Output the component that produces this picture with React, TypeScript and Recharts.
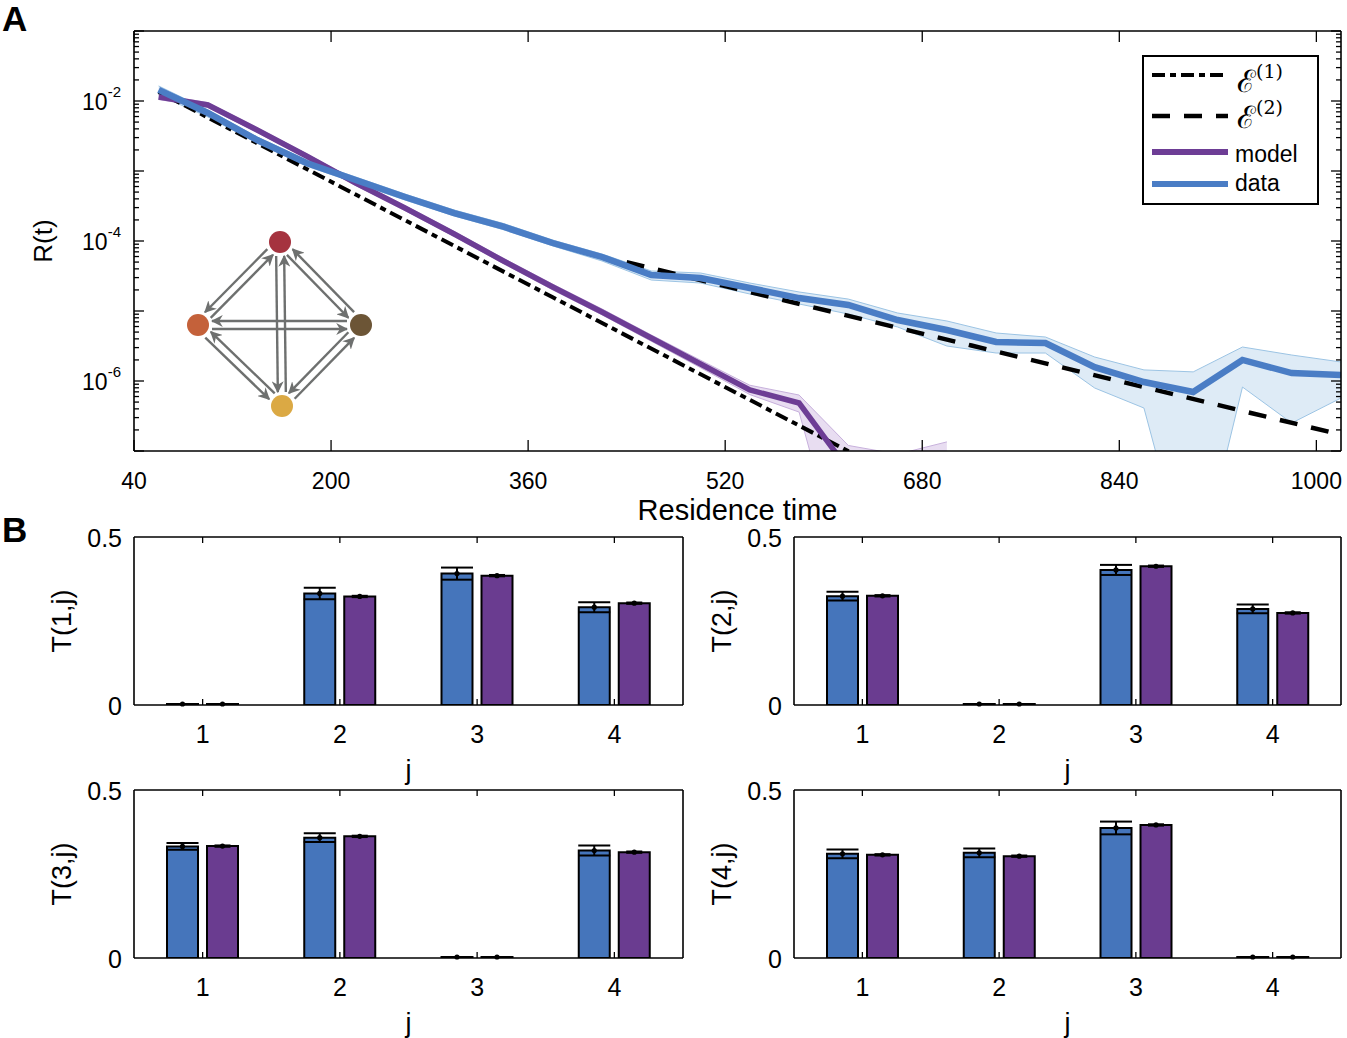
import React from "react";
import {
  ComposedChart,
  Line,
  Area,
  XAxis,
  YAxis,
  Legend,
  BarChart,
  Bar,
  ErrorBar,
  LabelList,
} from "recharts";

const FONT = "'Liberation Sans', Arial, Helvetica, sans-serif";
const BLUE = "#4a7dc5";
const PURPLE = "#6d3d95";

// ---- panel A: residence time survival R(t) ----
const residenceTimes = [
  60, 100, 140, 180, 220, 260, 300, 340, 380, 420, 460, 500, 540, 580, 620,
  660, 700, 740, 780, 820, 860, 900, 940, 980, 1020,
];
const dataMean = [
  1.44e-2, 6.74e-3, 2.77e-3, 1.3e-3, 7.44e-4, 4.25e-4, 2.51e-4, 1.6e-4,
  9.36e-5, 5.91e-5, 3.27e-5, 2.96e-5, 2.13e-5, 1.53e-5, 1.22e-5, 7.44e-6,
  5.35e-6, 3.61e-6, 3.49e-6, 1.58e-6, 9.68e-7, 6.97e-7, 2.0e-6, 1.3e-6,
  1.22e-6,
];
const dataLow = [
  1.22e-2, 5.91e-3, 2.51e-3, 1.18e-3, 6.74e-4, 3.85e-4, 2.28e-4, 1.45e-4,
  8.5e-5, 5.18e-5, 2.77e-5, 2.51e-5, 1.75e-5, 1.26e-5, 9.06e-6, 5.91e-6,
  3.16e-6, 2.51e-6, 2.51e-6, 7.94e-7, 4.11e-7, 1e-9, 8.2e-7, 2.51e-7, 5.71e-7,
];
const dataHigh = [
  1.64e-2, 7.44e-3, 3.06e-3, 1.44e-3, 8.2e-4, 4.69e-4, 2.77e-4, 1.78e-4,
  1.03e-4, 6.52e-5, 3.73e-5, 3.49e-5, 2.51e-5, 1.87e-5, 1.48e-5, 9.36e-6,
  7.2e-6, 4.85e-6, 4.25e-6, 2.2e-6, 1.44e-6, 1.35e-6, 3.06e-6, 2.35e-6,
  1.87e-6,
];
const modelMean = [
  1.14e-2, 8.77e-3, 3.85e-3, 1.64e-3, 6.74e-4, 2.96e-4, 1.26e-4, 5.18e-5,
  2.2e-5, 9.68e-6, 4.11e-6, 1.75e-6, 7.44e-7, 4.85e-7, 5.4e-8, 3e-8, 8e-8,
  null, null, null, null, null, null, null, null,
];
const modelLow = [
  1.05e-2, 8.1e-3, 3.55e-3, 1.52e-3, 6.2e-4, 2.72e-4, 1.16e-4, 4.75e-5, 2.0e-5,
  8.8e-6, 3.7e-6, 1.55e-6, 6.4e-7, 3.6e-7, 1e-9, 1e-9, 1e-9,
  null, null, null, null, null, null, null, null,
];
const modelHigh = [
  1.24e-2, 9.5e-3, 4.15e-3, 1.77e-3, 7.3e-4, 3.2e-4, 1.37e-4, 5.65e-5,
  2.42e-5, 1.07e-5, 4.55e-6, 1.98e-6, 8.7e-7, 6.3e-7, 1.2e-7, 9e-8, 1.35e-7,
  null, null, null, null, null, null, null, null,
];
const e1Times = [60, 220, 380, 540, 700];
const e1Values = [1.35e-2, 4.61e-4, 1.57e-5, 5.37e-7, 1.84e-8];
const e2Times = [440, 720, 1020];
const e2Values = [4.97e-5, 3.21e-6, 1.71e-7];

const xTicks = [40, 200, 360, 520, 680, 840, 1000];
const yLabelTicks = [1e-2, 1e-4, 1e-6];

// ---- panel B: transition probabilities T(i,j) ----
const jLabels = ["1", "2", "3", "4"];
const tData = [
  [0, 0.332, 0.391, 0.291],
  [0.324, 0, 0.402, 0.286],
  [0.332, 0.358, 0, 0.32],
  [0.31, 0.313, 0.387, 0],
];
const tDataErr = [
  [0, 0.017, 0.018, 0.015],
  [0.013, 0, 0.015, 0.013],
  [0.01, 0.013, 0, 0.015],
  [0.013, 0.013, 0.019, 0],
];
const tModel = [
  [0, 0.323, 0.385, 0.303],
  [0.325, 0, 0.413, 0.274],
  [0.333, 0.362, 0, 0.315],
  [0.307, 0.303, 0.396, 0],
];
const tModelErr = [
  [0, 0.002, 0.002, 0.002],
  [0.002, 0, 0.002, 0.002],
  [0.002, 0.002, 0, 0.002],
  [0.002, 0.002, 0.002, 0],
];

const survivalRows = residenceTimes.map((t, i) => ({
  t,
  dataMean: dataMean[i],
  dataBand: [dataLow[i], dataHigh[i]],
  modelMean: modelMean[i],
  modelBand: modelLow[i] == null ? null : [modelLow[i], modelHigh[i]],
}));
const e1Rows = e1Times.map((t, i) => ({ t, v: e1Values[i] }));
const e2Rows = e2Times.map((t, i) => ({ t, v: e2Values[i] }));

const yTickValues: number[] = [];
for (let e = -7; e <= -2; e++) {
  for (let k = 1; k <= 9; k++) yTickValues.push(k * Math.pow(10, e));
}
yTickValues.push(1e-1);

const isDecade = (v: number) => {
  const e = Math.log10(v);
  return Math.abs(e - Math.round(e)) < 1e-6;
};

const LogTick = (p: any, side: "left" | "right") => {
  const v = p.payload.value;
  const len = isDecade(v) ? 10 : 5;
  const dir = side === "left" ? 1 : -1;
  const labelled =
    side === "left" && yLabelTicks.some((t) => Math.abs(t - v) / t < 1e-6);
  return (
    <g>
      <line x1={p.x} x2={p.x + dir * len} y1={p.y} y2={p.y} stroke="#000" strokeWidth={1.3} />
      {labelled && (
        <text x={p.x - 13} y={p.y + 9} textAnchor="end" fontSize={23} fontFamily={FONT} fill="#000">
          10
          <tspan dy={-13} fontSize={15}>{`-${Math.round(-Math.log10(v))}`}</tspan>
        </text>
      )}
    </g>
  );
};

const XTick = (p: any, side: "bottom" | "top", len: number, fs: number, showText: boolean) => {
  const dir = side === "bottom" ? -1 : 1;
  return (
    <g>
      <line x1={p.x} x2={p.x} y1={p.y} y2={p.y + dir * len} stroke="#000" strokeWidth={1.3} />
      {showText && (
        <text x={p.x} y={p.y + 38} textAnchor="middle" fontSize={fs} fontFamily={FONT} fill="#000">
          {p.payload.value}
        </text>
      )}
    </g>
  );
};

const RotatedTitle = (p: any, caption: string, baseX: number, fs: number) => {
  const vb = p.viewBox;
  const cx = vb.x + baseX;
  const cy = vb.y + vb.height / 2;
  return (
    <text x={cx} y={cy} transform={`rotate(-90 ${cx} ${cy})`} textAnchor="middle" fontSize={fs} fontFamily={FONT} fill="#000">
      {caption}
    </text>
  );
};

const legendItems = [
  { key: "e1", sup: "(1)", color: "#000", width: 4, dash: "13 5 6 5" },
  { key: "e2", sup: "(2)", color: "#000", width: 4.5, dash: "18 14" },
  { key: "model", label: "model", color: PURPLE, width: 6, dash: undefined },
  { key: "data", label: "data", color: BLUE, width: 6, dash: undefined },
];
const legendRowY = [20, 61, 97, 129];
const legendTextY = [37, 73, 107, 136];

const LegendBox = () => (
  <svg width={177} height={151} style={{ display: "block" }}>
    <rect x={1} y={1} width={175} height={148} fill="#fff" stroke="#000" strokeWidth={2} />
    {legendItems.map((it, i) => (
      <g key={it.key}>
        <line x1={10} x2={86} y1={legendRowY[i]} y2={legendRowY[i]} stroke={it.color} strokeWidth={it.width} strokeDasharray={it.dash} />
        {it.sup ? (
          <text x={95} y={legendTextY[i]} fontSize={31} fontFamily="'DejaVu Serif', 'Liberation Serif', serif" fill="#000">
            ℰ
            <tspan dy={-14} fontSize={19}>{it.sup}</tspan>
          </text>
        ) : (
          <text x={93} y={legendTextY[i]} fontSize={23} fontFamily={FONT} fill="#000">
            {it.label}
          </text>
        )}
      </g>
    ))}
  </svg>
);

const SurvivalChart = () => (
  <ComposedChart width={1347} height={525} margin={{ top: 30, right: 0, bottom: 0, left: 0 }}>
    <XAxis
      dataKey="t"
      type="number"
      domain={[40, 1020]}
      ticks={xTicks}
      allowDataOverflow
      height={74}
      tickSize={0}
      tickMargin={0}
      tickLine={false}
      axisLine={{ stroke: "#000", strokeWidth: 1.6 }}
      tick={(p: any) => XTick(p, "bottom", 11, 23, true)}
      label={{ value: "Residence time", position: "insideBottom", offset: 5, fontSize: 29, fill: "#000", fontFamily: FONT }}
    />
    <XAxis
      xAxisId="top"
      orientation="top"
      dataKey="t"
      type="number"
      domain={[40, 1020]}
      ticks={xTicks}
      allowDataOverflow
      height={1}
      tickSize={0}
      tickMargin={0}
      tickLine={false}
      axisLine={{ stroke: "#000", strokeWidth: 1.6 }}
      tick={(p: any) => XTick(p, "top", 11, 23, false)}
    />
    <YAxis
      scale="log"
      domain={[1e-7, 1e-1]}
      ticks={yTickValues}
      allowDataOverflow
      width={134}
      tickSize={0}
      tickMargin={0}
      tickLine={false}
      interval={0}
      axisLine={{ stroke: "#000", strokeWidth: 1.6 }}
      tick={(p: any) => LogTick(p, "left")}
      label={(p: any) => RotatedTitle(p, "R(t)", 52, 26)}
    />
    <YAxis
      yAxisId="right"
      orientation="right"
      scale="log"
      domain={[1e-7, 1e-1]}
      ticks={yTickValues}
      allowDataOverflow
      width={6}
      tickSize={0}
      tickMargin={0}
      tickLine={false}
      interval={0}
      axisLine={{ stroke: "#000", strokeWidth: 1.6 }}
      tick={(p: any) => LogTick(p, "right")}
    />
    <Legend
      layout="vertical"
      align="center"
      verticalAlign="middle"
      wrapperStyle={{ left: 1142, top: 55, width: 177, height: 151 }}
      content={() => <LegendBox />}
    />
    <Line
      data={e1Rows}
      dataKey="v"
      xAxisId="top"
      yAxisId="right"
      stroke="#000"
      strokeWidth={4}
      strokeDasharray="13 5 6 5"
      dot={false}
      activeDot={false}
      isAnimationActive={false}
    />
    <Line
      data={e2Rows}
      dataKey="v"
      xAxisId="top"
      yAxisId="right"
      stroke="#000"
      strokeWidth={4.5}
      strokeDasharray="18 14"
      dot={false}
      activeDot={false}
      isAnimationActive={false}
    />
    <Area
      data={survivalRows}
      dataKey="modelBand"
      stroke="#c7b0dc"
      strokeWidth={1}
      fill="#d9c7e8"
      fillOpacity={0.6}
      isAnimationActive={false}
    />
    <Area
      data={survivalRows}
      dataKey="dataBand"
      stroke="#9cc4e4"
      strokeWidth={1}
      fill="#c8def0"
      fillOpacity={0.6}
      isAnimationActive={false}
    />
    <Line
      data={survivalRows}
      dataKey="modelMean"
      stroke={PURPLE}
      strokeWidth={5.5}
      dot={false}
      activeDot={false}
      isAnimationActive={false}
    />
    <Line
      data={survivalRows}
      dataKey="dataMean"
      stroke={BLUE}
      strokeWidth={6.5}
      dot={false}
      activeDot={false}
      isAnimationActive={false}
    />
  </ComposedChart>
);

const ValueDot = (p: any) => {
  const vb = p.viewBox ?? p;
  return <circle cx={vb.x + vb.width / 2} cy={vb.y} r={2.6} fill="#000" />;
};

const BarPanel = ({ row, left, top, width }: { row: number; left: number; top: number; width: number }) => {
  const rows = jLabels.map((j, k) => ({
    j,
    data: tData[row][k],
    dataErr: tDataErr[row][k],
    model: tModel[row][k],
    modelErr: tModelErr[row][k],
  }));
  return (
    <div style={{ position: "absolute", left, top }}>
      <BarChart
        width={width}
        height={265}
        data={rows}
        margin={{ top: 16, right: 0, bottom: 0, left: 0 }}
        barSize={31}
        barGap={9}
      >
        <XAxis
          dataKey="j"
          height={80}
          interval={0}
          tickSize={0}
          tickMargin={0}
          tickLine={false}
          axisLine={{ stroke: "#000", strokeWidth: 1.6 }}
          tick={(p: any) => XTick(p, "bottom", 6, 25, true)}
          label={{ value: "j", position: "insideBottom", offset: 6, fontSize: 27, fill: "#000", fontFamily: FONT }}
        />
        <XAxis
          xAxisId="top"
          orientation="top"
          dataKey="j"
          height={1}
          interval={0}
          tickSize={0}
          tickMargin={0}
          tickLine={false}
          axisLine={{ stroke: "#000", strokeWidth: 1.6 }}
          tick={(p: any) => XTick(p, "top", 6, 25, false)}
        />
        <YAxis
          domain={[0, 0.5]}
          ticks={[0, 0.5]}
          allowDataOverflow
          width={134}
          tickSize={0}
          tickMargin={0}
          tickLine={false}
          axisLine={{ stroke: "#000", strokeWidth: 1.6 }}
          tick={(p: any) => (
            <text x={p.x - 12} y={p.y + 10} textAnchor="end" fontSize={25} fontFamily={FONT} fill="#000">
              {p.payload.value}
            </text>
          )}
          label={(p: any) => RotatedTitle(p, `T(${row + 1},j)`, 71, 27)}
        />
        <YAxis
          yAxisId="right"
          orientation="right"
          domain={[0, 0.5]}
          allowDataOverflow
          width={7}
          tick={false}
          tickLine={false}
          axisLine={{ stroke: "#000", strokeWidth: 1.6 }}
        />
        <Bar dataKey="data" fill="#4575bb" stroke="#000" strokeWidth={2} minPointSize={1} isAnimationActive={false}>
          <ErrorBar dataKey="dataErr" width={16} stroke="#000" strokeWidth={2} />
          <LabelList content={ValueDot} />
        </Bar>
        <Bar dataKey="model" fill="#6a3c90" stroke="#000" strokeWidth={2} minPointSize={1} isAnimationActive={false}>
          <ErrorBar dataKey="modelErr" width={8} stroke="#000" strokeWidth={2} />
          <LabelList content={ValueDot} />
        </Bar>
      </BarChart>
    </div>
  );
};

// inset: four-state network
const nodes = [
  { x: 280, y: 242, c: "#a5333f" },
  { x: 198, y: 325, c: "#c4613a" },
  { x: 361, y: 325, c: "#6c5536" },
  { x: 282, y: 406, c: "#dba944" },
];
const NODE_R = 11;

const Network = () => {
  const arrows: React.ReactNode[] = [];
  nodes.forEach((a, i) =>
    nodes.forEach((b, k) => {
      if (i === k) return;
      const dx = b.x - a.x;
      const dy = b.y - a.y;
      const d = Math.hypot(dx, dy);
      const ux = dx / d;
      const uy = dy / d;
      const nx = -uy * 4;
      const ny = ux * 4;
      arrows.push(
        <line
          key={`${i}-${k}`}
          x1={a.x + ux * (NODE_R + 3) + nx}
          y1={a.y + uy * (NODE_R + 3) + ny}
          x2={b.x - ux * (NODE_R + 3) + nx}
          y2={b.y - uy * (NODE_R + 3) + ny}
          stroke="#6e706f"
          strokeWidth={2.4}
          markerEnd="url(#arrowHead)"
        />
      );
    })
  );
  return (
    <g>
      <defs>
        <marker id="arrowHead" viewBox="0 0 10 10" refX={9} refY={5} markerWidth={5} markerHeight={5} orient="auto">
          <path d="M0,0 L10,5 L0,10 L3,5 z" fill="#6e706f" />
        </marker>
      </defs>
      {arrows}
      {nodes.map((n, i) => (
        <circle key={i} cx={n.x} cy={n.y} r={NODE_R} fill={n.c} />
      ))}
    </g>
  );
};

export default function App() {
  return (
    <div style={{ position: "absolute", left: 0, top: 0, width: 1347, height: 1038, background: "#fff", fontFamily: FONT }}>
      <div style={{ position: "absolute", left: 0, top: 0 }}>
        <SurvivalChart />
      </div>
      <BarPanel row={0} left={0} top={520} width={690} />
      <BarPanel row={1} left={660} top={520} width={688} />
      <BarPanel row={2} left={0} top={773} width={690} />
      <BarPanel row={3} left={660} top={773} width={688} />
      <svg
        width={1347}
        height={1038}
        style={{ position: "absolute", left: 0, top: 0, pointerEvents: "none" }}
      >
        <text x={2} y={31} fontSize={35} fontWeight="bold" fontFamily={FONT} fill="#000">A</text>
        <text x={2} y={542} fontSize={35} fontWeight="bold" fontFamily={FONT} fill="#000">B</text>
        <Network />
      </svg>
    </div>
  );
}
